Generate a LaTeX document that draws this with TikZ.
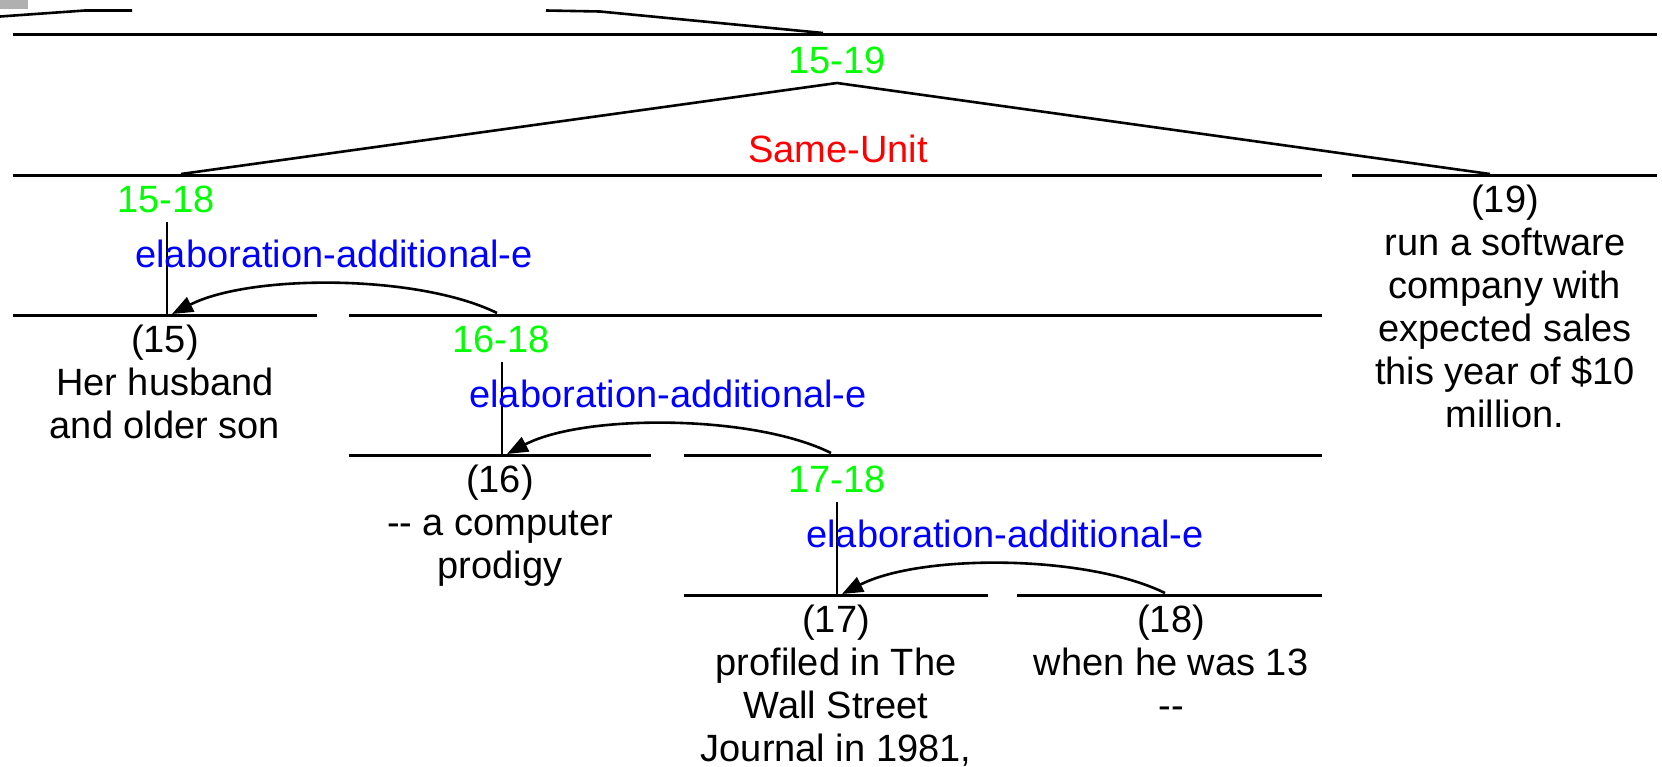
\documentclass[tikz,border=0pt]{standalone}
\usepackage{fontspec}
\setmainfont{Liberation Sans}
\usetikzlibrary{arrows.meta}
\definecolor{spangreen}{RGB}{0,255,0}
\definecolor{relred}{RGB}{255,0,0}
\definecolor{relblue}{RGB}{0,0,255}
\definecolor{boxgray}{RGB}{176,176,176}
\begin{document}
\begin{tikzpicture}[x=1pt,y=-1pt,
  every node/.style={inner sep=0pt,outer sep=0pt,font={\fontsize{38}{43}\selectfont}},
  spanline/.style={draw,line width=3pt},
  treeline/.style={draw,line width=2.6pt},
  spanlbl/.style={anchor=base,text=spangreen},
  mrel/.style={anchor=base,text=relred},
  rrel/.style={anchor=base,text=relblue},
  segtxt/.style={anchor=north,align=center,text=black},
  relarc/.style={draw,line width=2.6pt,-{Triangle[length=21pt,width=16pt]}}]
\useasboundingbox (0,0) rectangle (1662,766);
\fill[boxgray] (0,0) rectangle (28,9);
% remnants of parent structure (cropped)
\coordinate (ra) at (0,16.5);
\coordinate (rb) at (85,10.5);
\coordinate (rc) at (132,10.5);
\coordinate (rd) at (546,10.5);
\coordinate (re) at (600,11.5);
\coordinate (rf) at (823,33);
\draw[treeline] (ra) -- (rb) -- (rc);
\draw[treeline] (rd) -- (re) -- (rf);
% 15-19
\coordinate (t1a) at (13,34.5);
\coordinate (t1b) at (1657,34.5);
\draw[spanline] (t1a) -- (t1b);
\node[spanlbl] (s1519) at (837,73) {15-19};
\node[mrel] (su) at (838,162) {Same-Unit};
\coordinate (apex) at (837,83);
\coordinate (n1518top) at (181,174);
\coordinate (n19top) at (1490,174);
\draw[treeline] (n1518top) -- (apex) -- (n19top);
% row 2
\coordinate (l1518a) at (13,175);
\coordinate (l1518b) at (1322,175);
\coordinate (l19a) at (1352,175);
\coordinate (l19b) at (1657,175);
\draw[spanline] (l1518a) -- (l1518b);
\draw[spanline] (l19a) -- (l19b);
\node[spanlbl] (s1518) at (166,212) {15-18};
\coordinate (v1a) at (167,222);
\coordinate (v1b) at (167,315);
\draw[treeline] (v1a) -- (v1b);
\node[rrel] (r1) at (334,267) {elaboration-additional-e};
\node[segtxt] (t19) at (1505,182) {\rule{0pt}{30pt}(19)\\ run a software\\company with\\expected sales\\this year of \$10\\million.};
% row 3
\coordinate (l15a) at (13,315);
\coordinate (l15b) at (317,315);
\coordinate (l1618a) at (349,315);
\coordinate (l1618b) at (1322,315);
\draw[spanline] (l15a) -- (l15b);
\draw[spanline] (l1618a) -- (l1618b);
\node[segtxt] (t15) at (165,322) {\rule{0pt}{30pt}(15)\\ Her husband\\and older son};
\node[spanlbl] (s1618) at (501,352) {16-18};
\coordinate (v2a) at (502,362);
\coordinate (v2b) at (502,455);
\draw[treeline] (v2a) -- (v2b);
\node[rrel] (r2) at (668,407) {elaboration-additional-e};
\coordinate (a1s) at (497,313);
\coordinate (a1e) at (172,314);
\draw[relarc] (a1s) .. controls (418,274) and (250,274) .. (a1e);
% row 4
\coordinate (l16a) at (349,455);
\coordinate (l16b) at (651,455);
\coordinate (l1718a) at (684,455);
\coordinate (l1718b) at (1322,455);
\draw[spanline] (l16a) -- (l16b);
\draw[spanline] (l1718a) -- (l1718b);
\node[segtxt] (t16) at (500,462) {\rule{0pt}{30pt}(16)\\-{}- a computer\\prodigy};
\node[spanlbl] (s1718) at (837,492) {17-18};
\coordinate (v3a) at (837,502);
\coordinate (v3b) at (837,595);
\draw[treeline] (v3a) -- (v3b);
\node[rrel] (r3) at (1005,547) {elaboration-additional-e};
\coordinate (a2s) at (831,453);
\coordinate (a2e) at (507,454);
\draw[relarc] (a2s) .. controls (753,414) and (583,414) .. (a2e);
% row 5
\coordinate (l17a) at (684,595);
\coordinate (l17b) at (988,595);
\coordinate (l18a) at (1017,595);
\coordinate (l18b) at (1322,595);
\draw[spanline] (l17a) -- (l17b);
\draw[spanline] (l18a) -- (l18b);
\node[segtxt] (t17) at (836,602) {\rule{0pt}{30pt}(17)\\profiled in The\\Wall Street\\Journal in 1981,};
\node[segtxt] (t18) at (1171,602) {\rule{0pt}{30pt}(18)\\when he was 13\\-{}-};
\coordinate (a3s) at (1165,593);
\coordinate (a3e) at (842,594);
\draw[relarc] (a3s) .. controls (1085,554) and (920,554) .. (a3e);
\end{tikzpicture}
\end{document}
